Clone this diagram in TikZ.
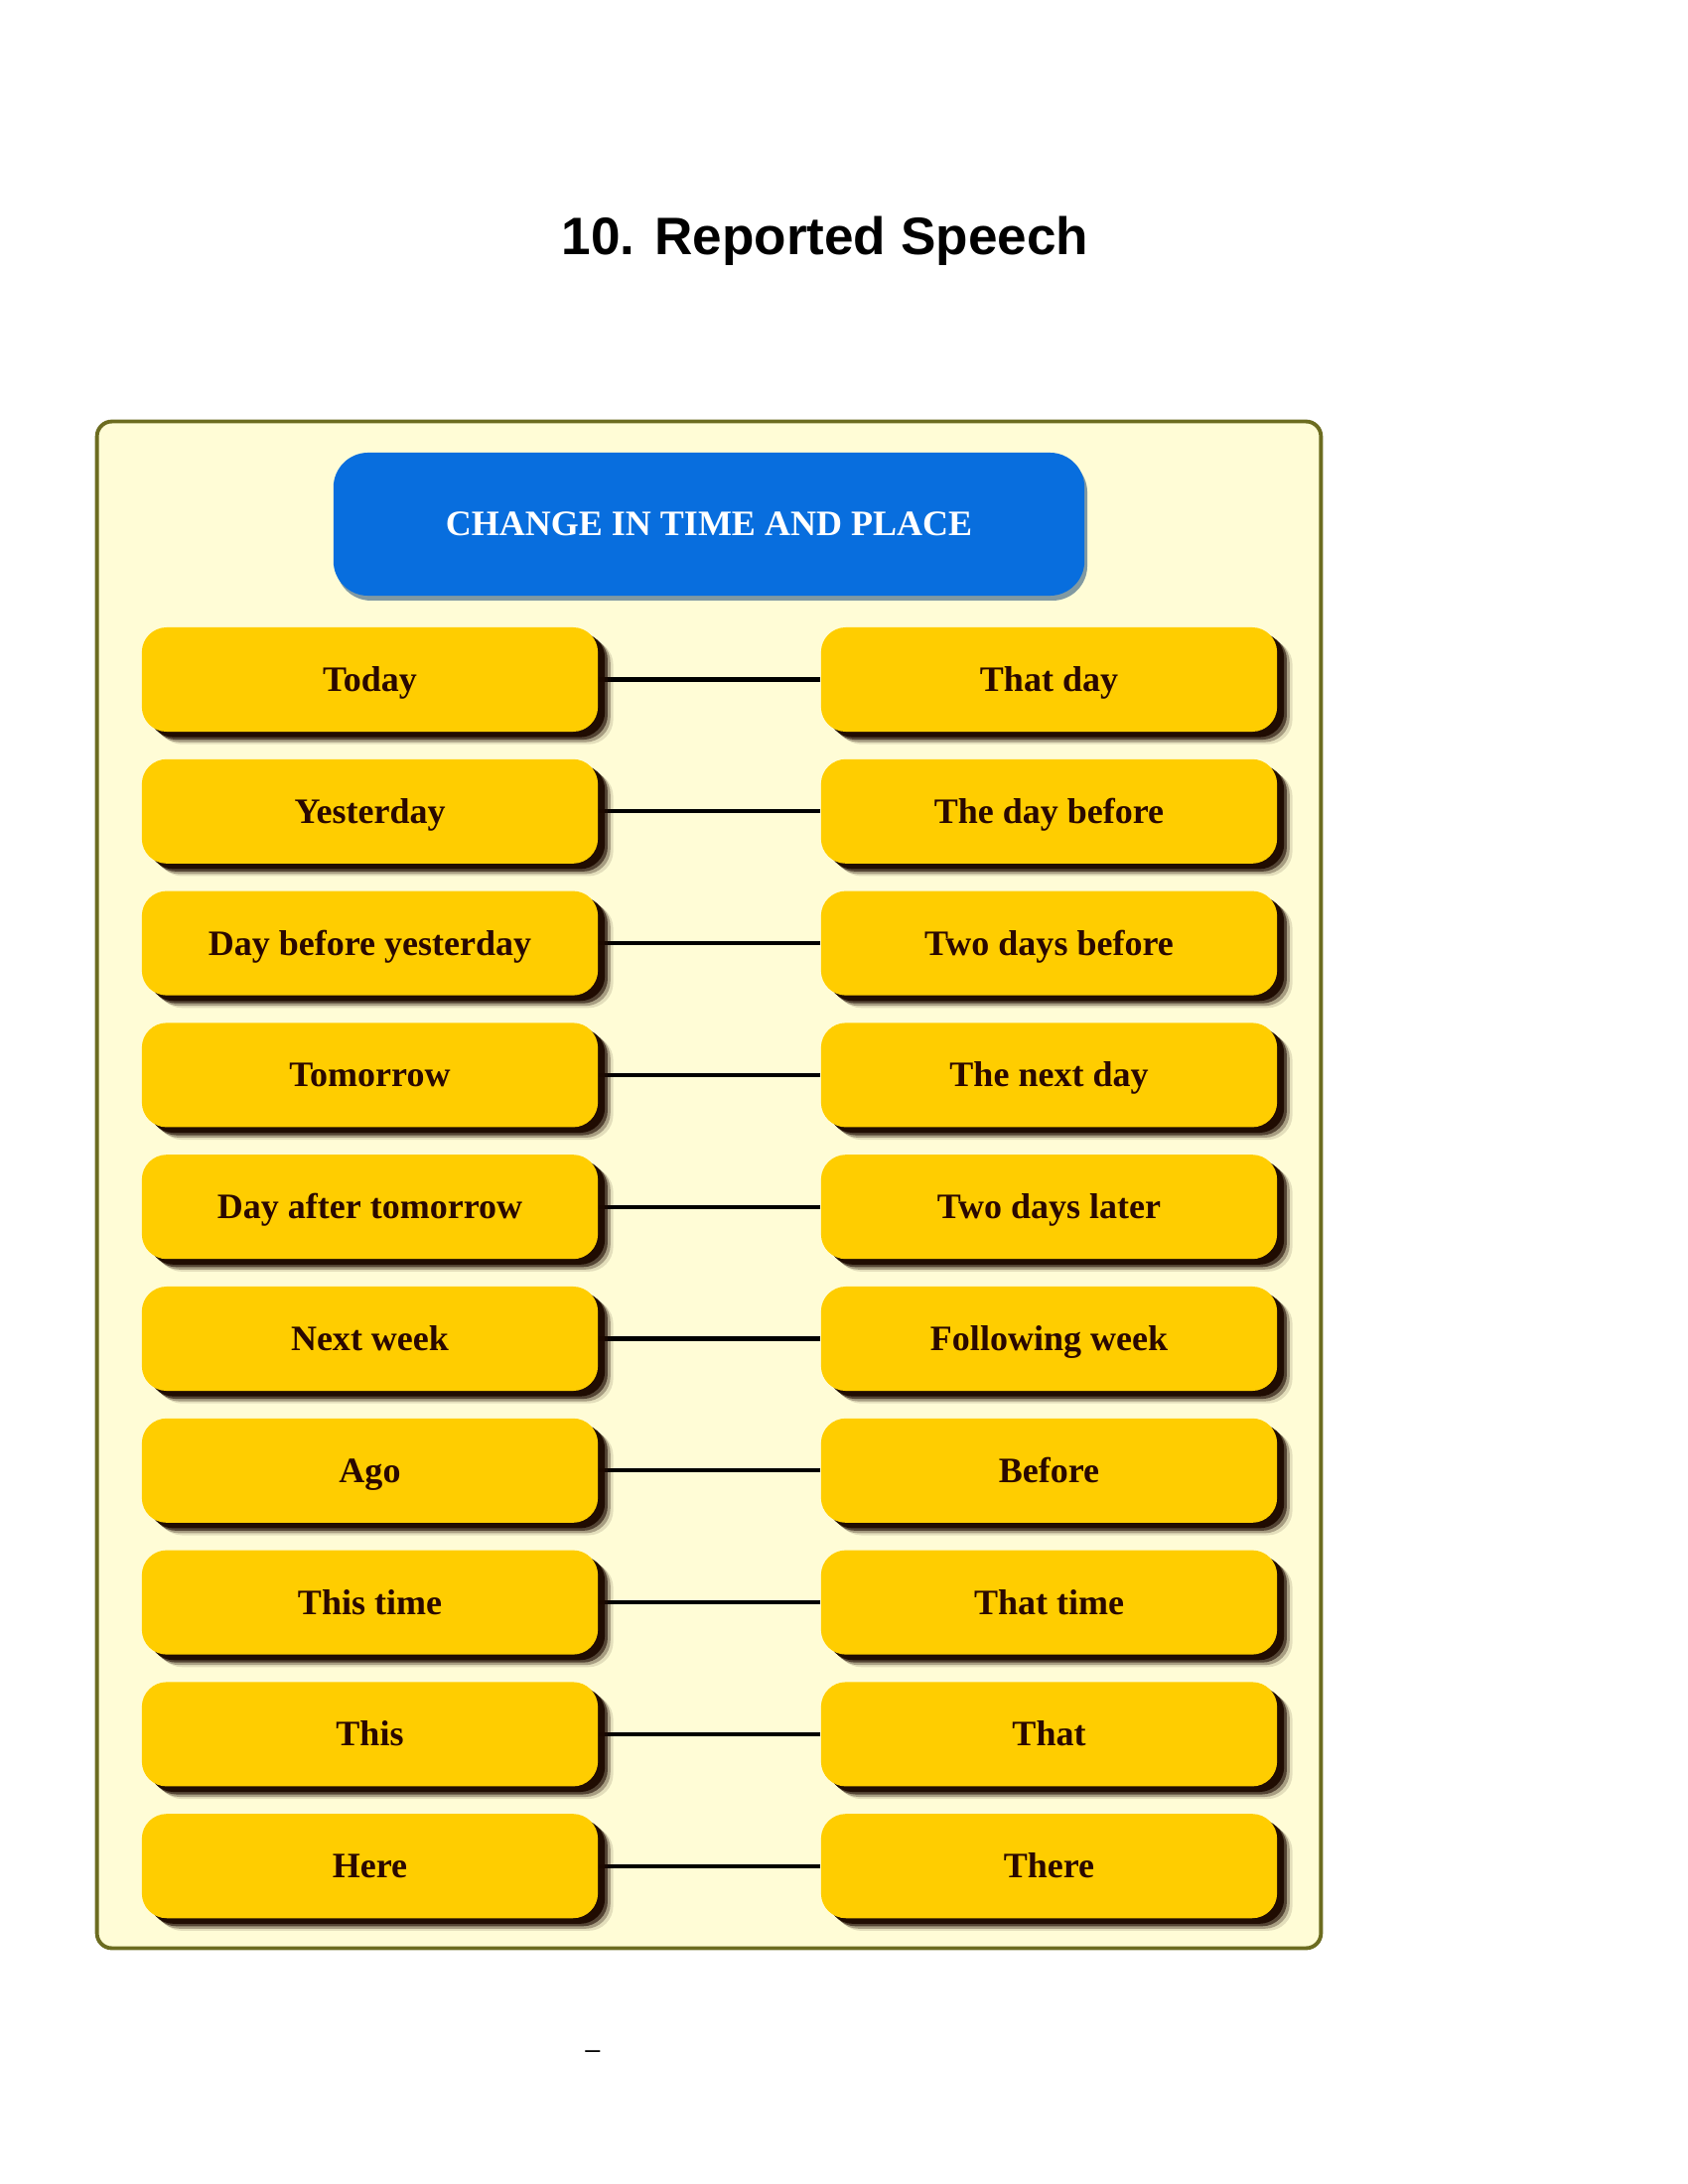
\documentclass[tikz,border=0pt]{standalone}
\usepackage{fontspec}
\setmainfont{Liberation Serif}
\newfontfamily\titlefont{Liberation Sans}
\usetikzlibrary{shadows}
\pgfdeclarelayer{back}
\pgfdeclarelayer{mid}
\pgfsetlayers{back,mid,main}
\definecolor{frameol}{RGB}{108,108,32}
\definecolor{framefill}{RGB}{255,252,214}
\definecolor{gold}{RGB}{255,205,0}
\definecolor{headblue}{RGB}{8,110,222}
\definecolor{labelbrown}{RGB}{42,8,0}
\definecolor{shadowdark}{RGB}{30,10,0}
\tikzset{
  ybox/.style={rectangle, rounded corners=0.25cm, fill=gold, inner sep=0pt,
    minimum width=4.59cm, minimum height=1.05cm,
    text height=0.24cm, text depth=0pt,
    font=\fontsize{10.24pt}{12pt}\selectfont\bfseries, text=labelbrown,
    drop shadow={shadow xshift=4.4pt, shadow yshift=-3.6pt, opacity=.12, fill=shadowdark},
    drop shadow={shadow xshift=3.6pt, shadow yshift=-3.0pt, opacity=.3, fill=shadowdark},
    drop shadow={shadow xshift=2.8pt, shadow yshift=-2.3pt, opacity=.6, fill=shadowdark},
    drop shadow={shadow xshift=2.0pt, shadow yshift=-1.6pt, opacity=.95, fill=shadowdark}},
  headbox/.style={rectangle, rounded corners=0.35cm, fill=headblue, inner sep=0pt,
    minimum width=7.56cm, minimum height=1.44cm,
    text height=0.23cm, text depth=0pt,
    font=\fontsize{10.24pt}{12pt}\selectfont\bfseries, text=white,
    drop shadow={shadow xshift=0.8pt, shadow yshift=-1.4pt, opacity=.5, fill=headblue!50!black}},
  framebox/.style={rectangle, rounded corners=0.15cm, draw=frameol, line width=1.1pt,
    fill=framefill, inner sep=0pt, minimum width=12.32cm, minimum height=15.37cm},
  conn/.style={draw=black, line width=1.2pt},
  titlestyle/.style={font=\titlefont\fontsize{15.1pt}{18pt}\selectfont\bfseries, inner sep=0pt, anchor=base}
}
\begin{document}
\begin{tikzpicture}[x=0.01cm, y=-0.01cm]
\useasboundingbox (0,0) rectangle (1700,2200);
\begin{pgfonlayer}{back}
\fill[white] (0,0) rectangle (1700,2200);
\node[framebox] (frame) at (714,1193.5) {};
\end{pgfonlayer}
\node[titlestyle] (title) at (831,256) {10. Reported Speech};
\node[headbox] (head) at (714,528) {CHANGE IN TIME AND PLACE};
\foreach \a/\b [count=\i from 0] in {Today/That day, Yesterday/The day before, Day before yesterday/Two days before, Tomorrow/The next day, Day after tomorrow/Two days later, Next week/Following week, Ago/Before, This time/That time, This/That, Here/There} {
  \node[ybox] (l\i) at (372.5, 684.5+132.8*\i) {\a};
  \node[ybox] (r\i) at (1056.5, 684.5+132.8*\i) {\b};
  \begin{pgfonlayer}{mid}
  \draw[conn] (l\i.east) -- (r\i.west);
  \end{pgfonlayer}
}
\node[font=\titlefont\fontsize{7.7pt}{9pt}\selectfont, inner sep=0pt, anchor=base] (dash) at (597,2073) {–};
\end{tikzpicture}
\end{document}
